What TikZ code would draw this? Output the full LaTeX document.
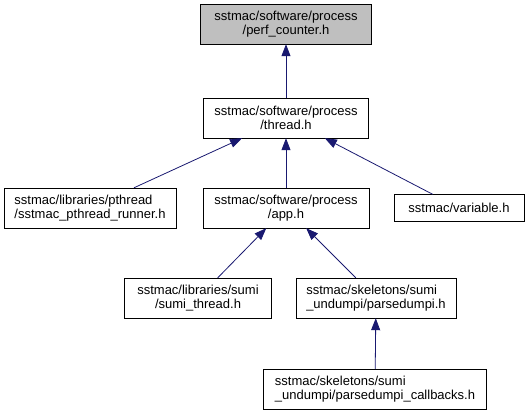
\documentclass[tikz,border=0pt]{standalone}
\usepackage{fontspec}
\setmainfont{Liberation Sans}
\usetikzlibrary{arrows.meta}
\definecolor{edgeblue}{HTML}{191970}
\definecolor{curgray}{HTML}{BFBFBF}

\begin{document}
\begin{tikzpicture}[x=1pt, y=1pt, node distance=90pt,
  file/.style={rectangle, draw, align=center, minimum height=40pt, inner xsep=4pt,
    font=\fontsize{13}{14}\selectfont},
  dep/.style={edgeblue, line width=0.8pt, -{Triangle[length=12pt, width=9pt]}}]
  \useasboundingbox (0,0) rectangle (528,-416);
  \node (perf) [file, fill=curgray, minimum width=171pt] at (286,-24) {sstmac/software/process\\/perf\_counter.h};
  \node (thread) [file, below of=perf, yshift=-4pt, minimum width=165pt] {sstmac/software/process\\/thread.h};
  \node (app) [file, below of=thread, minimum width=166pt] {sstmac/software/process\\/app.h};
  \node (pthread) [file, align=left, left of=app, xshift=-106pt, minimum width=172pt] {sstmac/libraries/pthread\\/sstmac\_pthread\_runner.h};
  \node (variable) [file, right of=app, xshift=83pt, minimum width=130pt, minimum height=27pt] {sstmac/variable.h};
  \node (sumithread) [file, below of=app, xshift=-88pt, minimum width=147pt] {sstmac/libraries/sumi\\/sumi\_thread.h};
  \node (parsedumpi) [file, align=left, below of=app, xshift=90pt, minimum width=160pt] {sstmac/skeletons/sumi\\\_undumpi/parsedumpi.h};
  \node (callbacks) [file, align=left, below of=parsedumpi, yshift=-1pt, xshift=-1pt, minimum width=223pt] {sstmac/skeletons/sumi\\\_undumpi/parsedumpi\_callbacks.h};
  \draw[dep] (thread) -- (perf);
  \draw[dep] (pthread) -- (thread);
  \draw[dep] (app) -- (thread);
  \draw[dep] (variable) -- (thread);
  \draw[dep] (sumithread) -- (app);
  \draw[dep] (parsedumpi) -- (app);
  \draw[dep] (callbacks) -- (parsedumpi);
\end{tikzpicture}
\end{document}
